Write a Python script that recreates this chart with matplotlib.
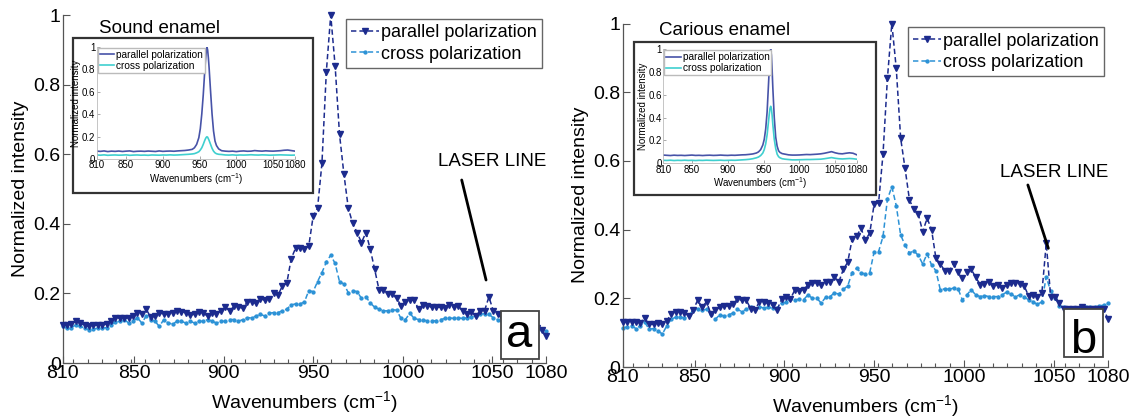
import numpy as np
import matplotlib
matplotlib.use("Agg")
import matplotlib.pyplot as plt
from matplotlib.patches import Rectangle
from matplotlib.ticker import MultipleLocator

plt.rcParams['font.family'] = ['Liberation Sans', 'DejaVu Sans']
plt.rcParams['mathtext.default'] = 'regular'

# ---------------- data ----------------
sound_parallel = [0.11, 0.108, 0.112, 0.12, 0.115, 0.108, 0.105, 0.108, 0.108, 0.11,
                  0.112, 0.122, 0.128, 0.13, 0.128, 0.13, 0.135, 0.145, 0.14, 0.155,
                  0.132, 0.135, 0.145, 0.14, 0.14, 0.145, 0.15, 0.148, 0.145, 0.138,
                  0.14, 0.148, 0.143, 0.135, 0.145, 0.14, 0.15, 0.16, 0.15, 0.163,
                  0.16, 0.158, 0.175, 0.175, 0.172, 0.185, 0.18,
                  0.185, 0.20, 0.195, 0.222, 0.229, 0.30, 0.33, 0.33, 0.327, 0.336,
                  0.422, 0.445, 0.574, 0.837, 1.0, 0.854, 0.657, 0.543, 0.445, 0.401,
                  0.375, 0.346, 0.375, 0.327, 0.269, 0.21, 0.21, 0.198, 0.198, 0.186,
                  0.165, 0.175, 0.182, 0.18, 0.155, 0.167, 0.165, 0.16, 0.16, 0.16,
                  0.158, 0.168, 0.16, 0.165, 0.15, 0.14, 0.148, 0.135, 0.15, 0.15,
                  0.19, 0.15, 0.14, 0.13, 0.13, 0.125, 0.12, 0.12, 0.115, 0.11,
                  0.105, 0.1, 0.095, 0.078]
sound_cross = [0.105, 0.1, 0.102, 0.11, 0.105, 0.1, 0.095, 0.098, 0.1, 0.1,
               0.102, 0.11, 0.118, 0.12, 0.125, 0.115, 0.12, 0.13, 0.115, 0.135,
               0.125, 0.12, 0.105, 0.125, 0.115, 0.112, 0.12, 0.12, 0.115, 0.12,
               0.115, 0.12, 0.12, 0.125, 0.12, 0.115, 0.12, 0.12, 0.125, 0.125,
               0.12, 0.125, 0.13, 0.13, 0.135, 0.14, 0.135,
               0.143, 0.145, 0.145, 0.15, 0.155, 0.167, 0.17, 0.17, 0.175, 0.208,
               0.205, 0.234, 0.26, 0.29, 0.31, 0.286, 0.234, 0.227, 0.202, 0.208,
               0.205, 0.186, 0.19, 0.173, 0.16, 0.155, 0.15, 0.15, 0.153, 0.152,
               0.128, 0.125, 0.143, 0.128, 0.125, 0.125, 0.12, 0.12, 0.122, 0.125,
               0.128, 0.13, 0.128, 0.13, 0.128, 0.13, 0.133, 0.135, 0.14, 0.142,
               0.14, 0.13, 0.125, 0.12, 0.118, 0.115, 0.11, 0.11, 0.105, 0.1,
               0.1, 0.098, 0.095, 0.092]
carious_parallel = [0.13, 0.132, 0.13, 0.132, 0.128, 0.142, 0.124, 0.124, 0.128, 0.124,
                    0.135, 0.154, 0.161, 0.161, 0.158, 0.148, 0.166, 0.195, 0.174, 0.19,
                    0.154, 0.165, 0.174, 0.177, 0.178, 0.183, 0.197, 0.195, 0.195, 0.17,
                    0.167, 0.19, 0.19, 0.185, 0.18, 0.167, 0.197, 0.205, 0.198, 0.224,
                    0.222, 0.224, 0.24, 0.245, 0.245, 0.238, 0.248,
                    0.248, 0.261, 0.248, 0.284, 0.305, 0.372, 0.38, 0.404, 0.37, 0.39,
                    0.475, 0.478, 0.62, 0.84, 1.0, 0.87, 0.666, 0.578, 0.486, 0.459,
                    0.445, 0.394, 0.433, 0.40, 0.316, 0.30, 0.28, 0.28, 0.30, 0.277,
                    0.258, 0.277, 0.284, 0.262, 0.24, 0.242, 0.248, 0.235, 0.24, 0.23,
                    0.238, 0.245, 0.245, 0.242, 0.236, 0.207, 0.21, 0.205, 0.215, 0.36,
                    0.205, 0.205, 0.185, 0.168, 0.168, 0.17, 0.17, 0.175, 0.17, 0.168,
                    0.168, 0.168, 0.168, 0.14]
carious_cross = [0.115, 0.116, 0.12, 0.112, 0.12, 0.13, 0.11, 0.112, 0.105, 0.096,
                 0.12, 0.139, 0.145, 0.145, 0.143, 0.15, 0.165, 0.17, 0.165, 0.168,
                 0.154, 0.139, 0.152, 0.148, 0.152, 0.157, 0.168, 0.161, 0.168, 0.174,
                 0.168, 0.176, 0.171, 0.174, 0.171, 0.171, 0.186, 0.188, 0.198, 0.194,
                 0.198, 0.196, 0.21, 0.2, 0.2, 0.186, 0.203,
                 0.205, 0.216, 0.212, 0.226, 0.236, 0.275, 0.287, 0.275, 0.27, 0.275,
                 0.336, 0.336, 0.38, 0.488, 0.525, 0.47, 0.384, 0.355, 0.332, 0.338,
                 0.325, 0.30, 0.33, 0.297, 0.28, 0.224, 0.228, 0.226, 0.23, 0.228,
                 0.195, 0.21, 0.225, 0.21, 0.205, 0.208, 0.205, 0.205, 0.205, 0.21,
                 0.218, 0.212, 0.205, 0.21, 0.205, 0.195, 0.19, 0.182, 0.19, 0.263,
                 0.22, 0.2, 0.178, 0.175, 0.172, 0.172, 0.172, 0.175, 0.175, 0.175,
                 0.175, 0.178, 0.18, 0.185]

# inset spectra (continuous lines)
inset_x = [810, 815, 820, 825, 830, 835, 840, 845, 850, 855, 860, 865, 870, 875,
           880, 885, 890, 895, 900, 905, 910, 915, 920, 925, 930, 935, 940,
           943, 946, 949, 951, 953, 955, 957, 958, 959, 960, 961, 962, 963, 965,
           967, 969, 971, 973, 976,
           980, 985, 990, 995, 1000, 1005, 1010, 1015, 1020, 1025, 1030, 1035,
           1040, 1045, 1050, 1055, 1060, 1065, 1070, 1075, 1080]
sound_in_par = [0.07, 0.068, 0.072, 0.066, 0.07, 0.068, 0.071, 0.067, 0.07, 0.072,
                0.066, 0.069, 0.07, 0.068, 0.071, 0.069, 0.067, 0.072, 0.068, 0.07,
                0.071, 0.069, 0.072, 0.074, 0.076, 0.08, 0.086,
                0.10, 0.13, 0.19, 0.27, 0.40, 0.57, 0.78, 0.87, 0.95, 1.0, 0.97,
                0.9, 0.81, 0.6, 0.4, 0.25, 0.16, 0.12, 0.09,
                0.074, 0.07, 0.068, 0.07, 0.066, 0.07, 0.072, 0.069, 0.07, 0.075,
                0.072, 0.07, 0.073, 0.071, 0.07, 0.072, 0.074, 0.078, 0.08, 0.075, 0.07]
sound_in_cross = [0.036, 0.034, 0.037, 0.033, 0.035, 0.036, 0.034, 0.035, 0.037, 0.033,
                  0.035, 0.036, 0.034, 0.035, 0.033, 0.036, 0.035, 0.034, 0.036, 0.035,
                  0.037, 0.035, 0.036, 0.038, 0.04, 0.042, 0.045,
                  0.048, 0.055, 0.065, 0.08, 0.1, 0.13, 0.165, 0.18, 0.192, 0.198,
                  0.194, 0.18, 0.165, 0.13, 0.095, 0.07, 0.055, 0.047, 0.042,
                  0.04, 0.036, 0.035, 0.037, 0.034, 0.036, 0.035, 0.036, 0.038, 0.036,
                  0.035, 0.037, 0.036, 0.034, 0.035, 0.036, 0.037, 0.036, 0.035, 0.034, 0.035]
carious_in_par = [0.072, 0.07, 0.068, 0.071, 0.069, 0.07, 0.068, 0.07, 0.072, 0.069,
                  0.07, 0.068, 0.07, 0.071, 0.069, 0.07, 0.072, 0.07, 0.069, 0.071,
                  0.07, 0.072, 0.074, 0.075, 0.078, 0.082, 0.09,
                  0.1, 0.12, 0.16, 0.21, 0.3, 0.45, 0.7, 0.83, 0.95, 1.0, 0.95,
                  0.82, 0.66, 0.4, 0.23, 0.15, 0.11, 0.095, 0.085,
                  0.08, 0.074, 0.072, 0.072, 0.073, 0.075, 0.077, 0.076, 0.078, 0.08,
                  0.083, 0.088, 0.095, 0.102, 0.092, 0.085, 0.083, 0.088, 0.092, 0.088, 0.075]
carious_in_cross = [0.026, 0.025, 0.027, 0.024, 0.026, 0.025, 0.027, 0.025, 0.026, 0.024,
                    0.026, 0.025, 0.027, 0.026, 0.025, 0.026, 0.027, 0.025, 0.026, 0.027,
                    0.026, 0.028, 0.03, 0.032, 0.035, 0.04, 0.048,
                    0.055, 0.068, 0.09, 0.12, 0.17, 0.25, 0.37, 0.43, 0.48, 0.5, 0.48,
                    0.42, 0.34, 0.21, 0.13, 0.08, 0.058, 0.048, 0.04,
                    0.036, 0.033, 0.03, 0.03, 0.031, 0.032, 0.033, 0.033, 0.034, 0.035,
                    0.036, 0.04, 0.045, 0.05, 0.044, 0.04, 0.038, 0.04, 0.042, 0.04, 0.036]

xticks = [810, 850, 900, 950, 1000, 1050, 1080]
yticks = [0, 0.2, 0.4, 0.6, 0.8, 1]
yticklabels = ['0', '0.2', '0.4', '0.6', '0.8', '1']

PAR_C = '#1c2b8e'
CR_C = '#2c92d6'
IN_PAR_C = '#4753a8'
IN_CR_C = '#3fcfcf'
SPINE_C = '#555555'

fig = plt.figure(figsize=(11.34, 4.19), dpi=100)


def main_axes(rect, par, cross, laser_xy, laser_start, laser_text_xy, letter, letter_box, letter_xy):
    ax = fig.add_axes(rect)
    x = np.linspace(810, 1080, len(par))
    ax.plot(x, par, ls='--', dashes=(3.5, 2), color=PAR_C, lw=1.1, marker='v', ms=4.8,
            label='parallel polarization', clip_on=False, zorder=3)
    ax.plot(x, cross, ls='--', dashes=(3.5, 2), color=CR_C, lw=1.1, marker='.', ms=4.2,
            label='cross polarization', clip_on=False, zorder=2)
    ax.set_xlim(810, 1080)
    ax.set_ylim(0, 1)
    ax.set_xticks(xticks)
    ax.set_yticks(yticks)
    ax.set_yticklabels(yticklabels)
    ax.xaxis.set_minor_locator(MultipleLocator(8))
    ax.tick_params(direction='in', labelsize=14, length=5, width=0.8, color=SPINE_C, pad=1.5)
    ax.tick_params(axis='x', which='minor', direction='in', length=3, width=0.8, color=SPINE_C)
    for s in ['top', 'right']:
        ax.spines[s].set_visible(False)
    for s in ['left', 'bottom']:
        ax.spines[s].set_color(SPINE_C)
        ax.spines[s].set_linewidth(0.9)
    ax.set_xlabel('Wavenumbers (cm$^{-1}$)', fontsize=14, labelpad=5)
    ax.set_ylabel('Normalized intensity', fontsize=14, labelpad=3)
    ax.legend(loc='upper right', fontsize=13, fancybox=False, edgecolor='#666666',
              framealpha=1, borderpad=0.3, handlelength=1.5, handletextpad=0.15,
              labelspacing=0.25, borderaxespad=0.2)
    ax.annotate('', xy=laser_xy, xytext=laser_start,
                arrowprops=dict(arrowstyle='-', color='black', lw=2, shrinkA=0, shrinkB=0))
    ax.text(laser_text_xy[0], laser_text_xy[1], 'LASER LINE', fontsize=13.5,
            ha='center', va='center')
    fig.patches.append(Rectangle(letter_box[:2], letter_box[2], letter_box[3],
                                 transform=fig.transFigure, facecolor='white',
                                 edgecolor='#444444', lw=1.3, zorder=4))
    fig.text(letter_xy[0], letter_xy[1], letter, fontsize=34, ha='center', va='baseline', zorder=5)
    return ax


def inset(frame, rect, par, cross, title, title_xy):
    fig.patches.append(Rectangle(frame[:2], frame[2], frame[3], transform=fig.transFigure,
                                 facecolor='white', edgecolor='#333333', lw=1.6, zorder=4))
    ax = fig.add_axes(rect, zorder=6)
    ax.plot(inset_x, par, color=IN_PAR_C, lw=1.2, label='parallel polarization')
    ax.plot(inset_x, cross, color=IN_CR_C, lw=1.2, label='cross polarization')
    ax.set_xlim(810, 1080)
    ax.set_ylim(0, 1)
    ax.set_xticks(xticks)
    ax.set_yticks(yticks)
    ax.set_yticklabels(yticklabels)
    ax.tick_params(direction='in', labelsize=7, length=2, width=0.5, color='#888888', pad=1)
    for s in ['top', 'right']:
        ax.spines[s].set_visible(False)
    for s in ['left', 'bottom']:
        ax.spines[s].set_color('#bbbbbb')
        ax.spines[s].set_linewidth(0.6)
    ax.set_xlabel('Wavenumbers (cm$^{-1}$)', fontsize=7, labelpad=0.5)
    ax.set_ylabel('Normalized intensity', fontsize=7, labelpad=0.5)
    ax.legend(loc='upper left', fontsize=7.3, fancybox=False, edgecolor='#bbbbbb',
              framealpha=1, borderpad=0.2, handlelength=1.4, handletextpad=0.2,
              labelspacing=0.1, borderaxespad=0.1)
    fig.text(title_xy[0], title_xy[1], title, fontsize=13.5, ha='left', va='center')
    return ax


ax1 = main_axes([0.0553, 0.1336, 0.4262, 0.8305], sound_parallel, sound_cross,
                (1046.5, 0.2385), (1032.9, 0.526), (1050.1, 0.578),
                'a', (0.4418, 0.1439, 0.0335, 0.1146), (0.4577, 0.1711))
ax2 = main_axes([0.5491, 0.1241, 0.428, 0.8198], carious_parallel, carious_cross,
                (1046.8, 0.3455), (1035.4, 0.53), (1050.1, 0.566),
                'b', (0.9383, 0.1473, 0.0347, 0.1146), (0.9553, 0.1568))

inset((0.0641, 0.5401, 0.2119, 0.37), [0.0853, 0.6205, 0.1749, 0.268],
      sound_in_par, sound_in_cross, 'Sound enamel', (0.087, 0.933))
inset((0.5591, 0.5346, 0.2134, 0.3659), [0.5849, 0.6103, 0.1705, 0.272],
      carious_in_par, carious_in_cross, 'Carious enamel', (0.5811, 0.928))

fig.savefig('out.png', dpi=100)
